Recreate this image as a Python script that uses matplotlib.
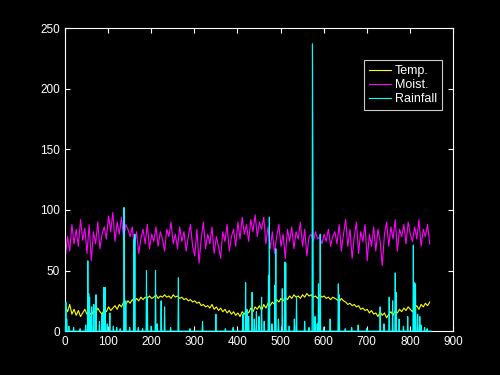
import numpy as np
import matplotlib.pyplot as plt

# temperature and moisture, read every 5 days (day 1, 6, 11, ...)
days = np.arange(1, 851, 5)

temp = [20, 16, 22, 14, 18, 13, 17, 12, 15, 18, 14, 16, 13, 17, 15, 19, 16, 14,
        18, 16, 20, 17, 19, 21, 18, 22, 20, 24, 22, 25, 23, 26, 24, 27, 25, 28,
        26, 28, 27, 29, 27, 28, 30, 27, 29, 28, 30, 28, 29, 27, 30, 28, 29, 27,
        28, 26, 27, 25, 26, 24, 25, 23, 24, 21, 22, 20, 21, 19, 22, 18, 20, 17,
        19, 16, 18, 15, 17, 14, 16, 13, 15, 12, 16, 14, 17, 15, 19, 16, 20, 18,
        21, 17, 22, 19, 23, 21, 24, 22, 26, 24, 27, 25, 28, 26, 29, 27, 30, 28,
        29, 27, 30, 28, 31, 29, 30, 28, 29, 27, 30, 28, 29, 27, 28, 26, 28, 27,
        26, 24, 27, 25, 24, 22, 23, 21, 22, 20, 21, 18, 19, 17, 18, 15, 17, 14,
        15, 12, 16, 13, 15, 11, 14, 16, 13, 17, 15, 18, 16, 19, 17, 20, 18, 16,
        19, 21, 18, 22, 20, 23, 21, 24]

moist = [62, 78, 66, 88, 72, 84, 70, 92, 75, 85, 64, 88, 58, 82, 72, 90, 68, 80,
         86, 76, 95, 82, 98, 74, 90, 80, 94, 76, 88, 84, 78, 86, 70, 82, 64, 76,
         84, 72, 88, 68, 80, 74, 86, 70, 82, 76, 66, 84, 78, 90, 72, 80, 68, 86,
         74, 82, 66, 78, 88, 70, 62, 84, 56, 76, 90, 68, 80, 72, 86, 64, 78, 70,
         60, 82, 74, 88, 66, 78, 84, 70, 90, 76, 94, 80, 88, 74, 92, 82, 96, 78,
         90, 84, 94, 72, 86, 68, 82, 64, 78, 88, 70, 80, 60, 84, 74, 86, 68, 82,
         76, 90, 70, 84, 62, 78, 80, 74, 82, 76, 78, 72, 80, 74, 84, 70, 78, 82,
         72, 88, 66, 80, 92, 70, 84, 60, 78, 90, 64, 82, 74, 88, 58, 80, 70, 86,
         66, 84, 74, 54, 80, 90, 70, 86, 76, 92, 66, 84, 78, 88, 72, 90, 80, 74,
         86, 76, 92, 70, 84, 78, 88, 72]

# rainfall: only the rainy days, all other days are 0
rain_days = [2, 4, 9, 20, 35, 48, 53, 55, 57, 60, 62, 67, 72, 80, 86, 90, 93, 98,
             104, 112, 120, 128, 137, 138, 141, 150, 160, 162, 170, 180, 189, 191,
             200, 210, 214, 223, 231, 245, 263, 290, 319, 350, 372, 390, 413, 419,
             422, 426, 434, 439, 444, 450, 456, 462, 472, 474, 480, 487, 489, 495,
             504, 510, 512, 520, 532, 537, 556, 566, 574, 575, 580, 585, 588, 592,
             600, 615, 634, 636, 650, 665, 680, 700, 731, 740, 752, 760, 766, 768,
             775, 785, 795, 808, 810, 813, 818, 823, 826, 834, 840]
rain_mm = [24, 10, 4, 3, 2, 5, 58, 31, 28, 12, 20, 22, 30, 8, 14, 36, 36, 6,
           15, 4, 3, 2, 102, 28, 25, 3, 76, 80, 3, 2, 50, 28,
           4, 50, 6, 25, 20, 3, 44, 2, 8, 14, 2, 3, 14, 40,
           18, 12, 32, 10, 16, 12, 28, 8, 46, 94, 6, 38, 68, 10,
           35, 57, 56, 4, 10, 28, 8, 3, 237, 134, 12, 6, 39, 80,
           3, 10, 39, 30, 2, 3, 5, 2, 20, 6, 28, 25, 48, 32,
           10, 4, 12, 71, 40, 39, 14, 12, 5, 3, 2]

all_days = np.arange(1, 851)
rain = np.zeros(len(all_days))
rain[np.array(rain_days) - 1] = rain_mm

fig = plt.figure(figsize=(5, 3.75), dpi=100, facecolor='black')
ax = fig.add_axes([0.13, 0.117, 0.776, 0.808], facecolor='black')

ax.plot(days, temp, color='yellow', lw=0.8, label='Temp.')
ax.plot(days, moist, color='magenta', lw=0.8, label='Moist.')
ax.plot(all_days, rain, color='cyan', lw=0.8, label='Rainfall', zorder=3, clip_on=False)

ax.set_xlim(0, 900)
ax.set_ylim(0, 250)
ax.set_xticks(range(0, 901, 100))
ax.set_yticks(range(0, 251, 50))

for s in ax.spines.values():
    s.set_color('white')
    s.set_linewidth(0.8)
ax.tick_params(colors='white', direction='in', top=True, right=True,
               length=3.5, width=0.8, labelsize=8.5)
for lab in ax.get_xticklabels() + ax.get_yticklabels():
    lab.set_family('Liberation Sans')

leg = ax.legend(loc='upper right', bbox_to_anchor=(0.972, 0.894), frameon=True,
                fancybox=False, facecolor='black', edgecolor='white',
                borderaxespad=0, handlelength=1.8, handletextpad=0.3,
                borderpad=0.4, labelspacing=0.15,
                prop={'family': 'Liberation Sans', 'size': 9})
leg.get_frame().set_linewidth(0.8)
for t in leg.get_texts():
    t.set_color('white')

fig.savefig('out.png', dpi=100, facecolor='black')
